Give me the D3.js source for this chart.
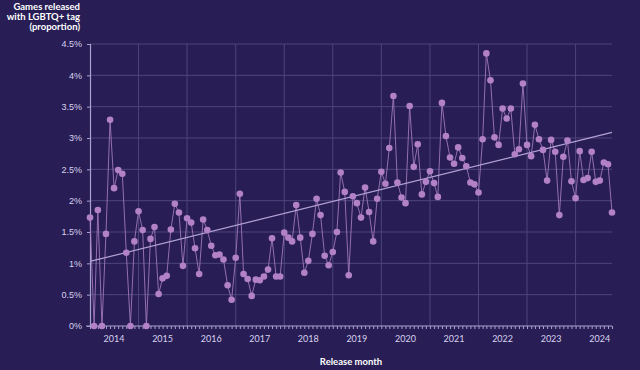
<!DOCTYPE html>
<html>
<head>
<meta charset="utf-8">
<script src="https://cdn.jsdelivr.net/npm/d3@7"></script>
<style>
  html, body { margin: 0; padding: 0; background: #281e55; }
  svg { display: block; font-family: "Lato", "Open Sans", sans-serif; }
</style>
</head>
<body>
<div id="chart"></div>
<script>
// share of games released each month with the LGBTQ+ tag (%), starting Jan 2014
var firstMonth = new Date(2014, 0, 1);
var share = [
  1.73, 0, 1.85, 0, 1.47, 3.29, 2.20, 2.49, 2.43, 1.17, 0, 1.35,
  1.83, 1.53, 0, 1.39, 1.58, 0.51, 0.76, 0.80, 1.54, 1.95, 1.81, 0.96,
  1.72, 1.65, 1.24, 0.83, 1.70, 1.53, 1.28, 1.13, 1.14, 1.06, 0.65, 0.42,
  1.09, 2.11, 0.83, 0.75, 0.48, 0.74, 0.73, 0.79, 0.90, 1.40, 0.79, 0.79,
  1.49, 1.41, 1.35, 1.93, 1.41, 0.85, 1.04, 1.47, 2.03, 1.77, 1.12, 0.97,
  1.18, 1.50, 2.45, 2.14, 0.81, 2.07, 1.96, 1.73, 2.21, 1.82, 1.35, 2.03,
  2.46, 2.27, 2.84, 3.67, 2.29, 2.05, 1.96, 3.51, 2.54, 2.90, 2.10, 2.30,
  2.47, 2.28, 2.06, 3.56, 3.03, 2.69, 2.59, 2.85, 2.68, 2.55, 2.29, 2.26,
  2.13, 2.98, 4.35, 3.92, 3.01, 2.89, 3.47, 3.31, 3.47, 2.74, 2.82, 3.87,
  2.89, 2.71, 3.21, 2.98, 2.81, 2.32, 2.97, 2.78, 1.77, 2.70, 2.96, 2.31,
  2.04, 2.79, 2.33, 2.36, 2.78, 2.30, 2.32, 2.61, 2.58, 1.81
];
// linear trend as drawn in the original (value at first and last month)
var trend = [1.03, 3.09];
var years = [2014, 2015, 2016, 2017, 2018, 2019, 2020, 2021, 2022, 2023, 2024];
var yTicks = [0, 0.5, 1, 1.5, 2, 2.5, 3, 3.5, 4, 4.5];

var months = share.map((v, i) => d3.timeMonth.offset(firstMonth, i));
var data = share.map((v, i) => ({ month: months[i], value: v }));

var svgWidth = 640;
var svgHeight = 370;
var margin = { top: 44, right: 28, bottom: 44, left: 90 };

var svg = d3.select("#chart")
  .append("svg")
  .attr("width", svgWidth)
  .attr("height", svgHeight);

svg.append("rect")
  .attr("width", svgWidth)
  .attr("height", svgHeight)
  .attr("fill", "#281e55");

var xScale = d3.scaleTime()
  .domain([months[0], months[months.length - 1]])
  .range([margin.left, svgWidth - margin.right]);

var yScale = d3.scaleLinear()
  .domain([0, 4.5])
  .range([svgHeight - margin.bottom, margin.top]);

var gridColor = "#4e457d";

// horizontal grid
svg.append("g")
  .selectAll("line")
  .data(yTicks.slice(1))
  .join("line")
  .attr("x1", margin.left)
  .attr("x2", svgWidth - margin.right)
  .attr("y1", d => yScale(d))
  .attr("y2", d => yScale(d))
  .attr("stroke", gridColor)
  .attr("stroke-width", 1);

// vertical grid at year starts
svg.append("g")
  .selectAll("line")
  .data(years.slice(1))
  .join("line")
  .attr("x1", d => xScale(new Date(d, 0, 1)))
  .attr("x2", d => xScale(new Date(d, 0, 1)))
  .attr("y1", yScale(0))
  .attr("y2", yScale(4.5))
  .attr("stroke", gridColor)
  .attr("stroke-width", 1);

// y axis
var yAxis = d3.axisLeft(yScale)
  .tickValues(yTicks)
  .tickSize(3)
  .tickPadding(5)
  .tickFormat(d => d + "%");

var yG = svg.append("g")
  .attr("transform", `translate(${margin.left}, 0)`)
  .call(yAxis);

// x axis: monthly ticks, year labels mid-year
var xAxis = d3.axisBottom(xScale)
  .ticks(d3.timeMonth.every(1))
  .tickSize(3)
  .tickFormat("");

var xG = svg.append("g")
  .attr("transform", `translate(0, ${yScale(0)})`)
  .call(xAxis);

[yG, xG].forEach(g => {
  g.select(".domain").attr("stroke", "#aaa1cf").attr("stroke-width", 1.2);
  g.selectAll(".tick line").attr("stroke", "#aaa1cf");
  g.selectAll("text")
    .attr("fill", "#d8d2ee")
    .style("font-size", "9px");
});
xG.select(".domain").attr("d", `M${margin.left - 4},0H${svgWidth - margin.right}`);

svg.append("g")
  .selectAll("text")
  .data(years)
  .join("text")
  .attr("x", d => xScale(new Date(d, 6, 1)))
  .attr("y", yScale(0) + 16)
  .attr("text-anchor", "middle")
  .attr("fill", "#d8d2ee")
  .style("font-size", "9px")
  .text(d => d);

// monthly series
var line = d3.line()
  .x(d => xScale(d.month))
  .y(d => yScale(d.value));

svg.append("path")
  .datum(data)
  .attr("d", line)
  .attr("fill", "none")
  .attr("stroke", "#a77cc0")
  .attr("stroke-opacity", 0.85)
  .attr("stroke-width", 1);

svg.append("line")
  .attr("x1", xScale(months[0]))
  .attr("y1", yScale(trend[0]))
  .attr("x2", xScale(months[months.length - 1]))
  .attr("y2", yScale(trend[1]))
  .attr("stroke", "#b4a2d6")
  .attr("stroke-width", 1.2);

svg.append("g")
  .selectAll("circle")
  .data(data)
  .join("circle")
  .attr("cx", d => xScale(d.month))
  .attr("cy", d => yScale(d.value))
  .attr("r", 3.3)
  .attr("fill", "#b381c8");

// titles
var yTitle = svg.append("text")
  .attr("text-anchor", "end")
  .attr("fill", "#ffffff")
  .style("font-size", "9.5px")
  .style("font-weight", "bold");

["Games released", "with LGBTQ+ tag", "(proportion)"].forEach((t, i) => {
  yTitle.append("tspan")
    .attr("x", 80)
    .attr("y", 10 + i * 10)
    .text(t);
});

svg.append("text")
  .attr("x", (margin.left + svgWidth - margin.right) / 2)
  .attr("y", 365)
  .attr("text-anchor", "middle")
  .attr("fill", "#ffffff")
  .style("font-size", "9.5px")
  .style("font-weight", "bold")
  .text("Release month");
</script>
</body>
</html>
